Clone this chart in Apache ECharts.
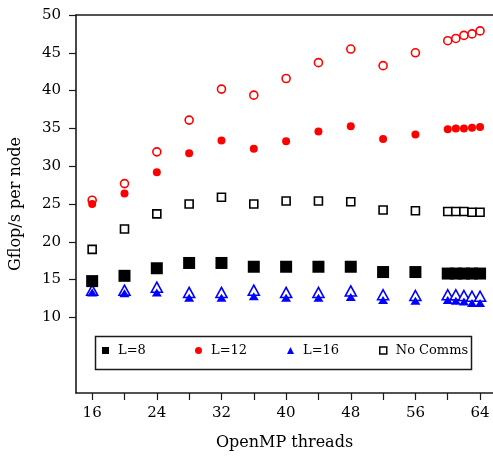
<!DOCTYPE html>
<html>
<head>
<meta charset="utf-8">
<script src="https://cdn.jsdelivr.net/npm/echarts@6/dist/echarts.min.js"></script>
<style>
  html, body { margin: 0; padding: 0; background: #fff; }
  #chart { width: 493px; height: 456px; }
</style>
</head>
<body>
<div id="chart"></div>
<script>
const threads = [16, 20, 24, 28, 32, 36, 40, 44, 48, 52, 56, 60, 61, 62, 63, 64];
const l8 = [14.8, 15.5, 16.5, 17.2, 17.2, 16.7, 16.7, 16.7, 16.7, 16.0, 16.0, 15.8, 15.8, 15.8, 15.8, 15.8];
const l12 = [25.0, 26.4, 29.2, 31.7, 33.4, 32.3, 33.3, 34.6, 35.3, 33.6, 34.2, 34.9, 35.0, 35.0, 35.1, 35.2];
const l16 = [13.3, 13.2, 13.3, 12.6, 12.6, 12.8, 12.6, 12.6, 12.7, 12.3, 12.2, 12.3, 12.2, 12.1, 11.9, 11.9];
const noComms8 = [19.0, 21.7, 23.7, 25.0, 25.9, 25.0, 25.4, 25.4, 25.3, 24.2, 24.1, 24.0, 24.0, 24.0, 23.9, 23.9];
const noComms12 = [25.5, 27.7, 31.9, 36.1, 40.2, 39.4, 41.6, 43.7, 45.5, 43.3, 45.0, 46.6, 46.9, 47.3, 47.5, 47.9];
const noComms16 = [13.6, 13.6, 14.0, 13.3, 13.3, 13.6, 13.3, 13.3, 13.5, 13.0, 12.9, 13.0, 13.0, 12.9, 12.8, 12.8];

const xTicks = [16, 20, 24, 28, 32, 36, 40, 44, 48, 52, 56, 60, 64];
const xLabels = [16, 24, 32, 40, 48, 56, 64];
const yTicks = [10, 15, 20, 25, 30, 35, 40, 45, 50];

const FONT = '"DejaVu Serif", serif';
const INK = '#1a1a1a';
const pts = (ys) => threads.map((x, i) => [x, ys[i]]);

const chart = echarts.init(document.getElementById('chart'));

function openSeries(name, ys, symbol, size, color) {
  return {
    name, type: 'scatter', data: pts(ys), symbol, symbolSize: size,
    itemStyle: { color: '#fff', borderColor: color, borderWidth: 1.6, opacity: 1 },
    emphasis: { disabled: true }
  };
}
function filledSeries(name, ys, symbol, size, color) {
  return {
    name, type: 'scatter', data: pts(ys), symbol, symbolSize: size,
    itemStyle: { color, borderWidth: 0, opacity: 1 },
    emphasis: { disabled: true }
  };
}

// one legend per entry so the four columns sit at fixed spots
const legendItems = [
  { name: 'L=8', left: 102, icon: 'rect', itemStyle: { color: '#000' } },
  { name: 'L=12', left: 195, icon: 'circle', itemStyle: { color: '#ff0000' } },
  { name: 'L=16', left: 287, icon: 'triangle', itemStyle: { color: '#0000ff' } },
  { name: 'No Comms', left: 379, icon: 'rect', itemStyle: { color: '#fff', borderColor: '#000', borderWidth: 1.5 } },
];

const axisLine = { lineStyle: { color: INK, width: 1.6 } };

chart.setOption({
  animation: false,
  textStyle: { fontFamily: FONT },
  // right edge of the frame runs off the picture, so x max sits just past it
  grid: { left: 69, right: 0, top: 15, bottom: 60 },
  legend: legendItems.map((it) => ({
    data: [{ name: it.name, icon: it.icon, itemStyle: it.itemStyle }],
    left: it.left, top: 344,
    itemWidth: 7, itemHeight: 7, padding: 0,
    selectedMode: false,
    textStyle: { fontFamily: FONT, fontSize: 13, color: '#000', padding: [0, 0, 0, 4] }
  })),
  graphic: [{
    type: 'rect', left: 93, top: 334,
    shape: { width: 376, height: 33 },
    style: { fill: 'none', stroke: INK, lineWidth: 1.5 }
  }],
  xAxis: [{
    type: 'value', min: 14, max: 65.6,
    name: 'OpenMP threads', nameLocation: 'middle', nameGap: 42,
    nameTextStyle: { fontFamily: FONT, fontSize: 16, color: '#000' },
    axisLine,
    axisTick: { customValues: xTicks, length: 7, lineStyle: { color: INK, width: 1.2 } },
    axisLabel: { customValues: xLabels, margin: 13, fontFamily: FONT, fontSize: 15, color: '#000' },
    splitLine: { show: false }
  }, {
    type: 'value', min: 14, max: 65.6, position: 'top',
    axisLine, axisTick: { show: false }, axisLabel: { show: false }, splitLine: { show: false }
  }],
  yAxis: {
    type: 'value', min: 0, max: 50,
    name: 'Gflop/s per node', nameLocation: 'middle', nameGap: 52,
    nameTextStyle: { fontFamily: FONT, fontSize: 16, color: '#000' },
    axisLine,
    axisTick: { customValues: yTicks, length: 7, lineStyle: { color: INK, width: 1.2 } },
    axisLabel: { customValues: yTicks, margin: 15, fontFamily: FONT, fontSize: 15, color: '#000' },
    splitLine: { show: false }
  },
  series: [
    openSeries('No Comms', noComms8, 'rect', 8, '#000'),
    openSeries('No Comms L=12', noComms12, 'circle', 8, '#ff0000'),
    openSeries('No Comms L=16', noComms16, 'triangle', [11, 10], '#0000ff'),
    filledSeries('L=8', l8, 'rect', 12, '#000'),
    filledSeries('L=12', l12, 'circle', 8, '#ff0000'),
    filledSeries('L=16', l16, 'triangle', [10, 8], '#0000ff'),
  ]
});
</script>
</body>
</html>
